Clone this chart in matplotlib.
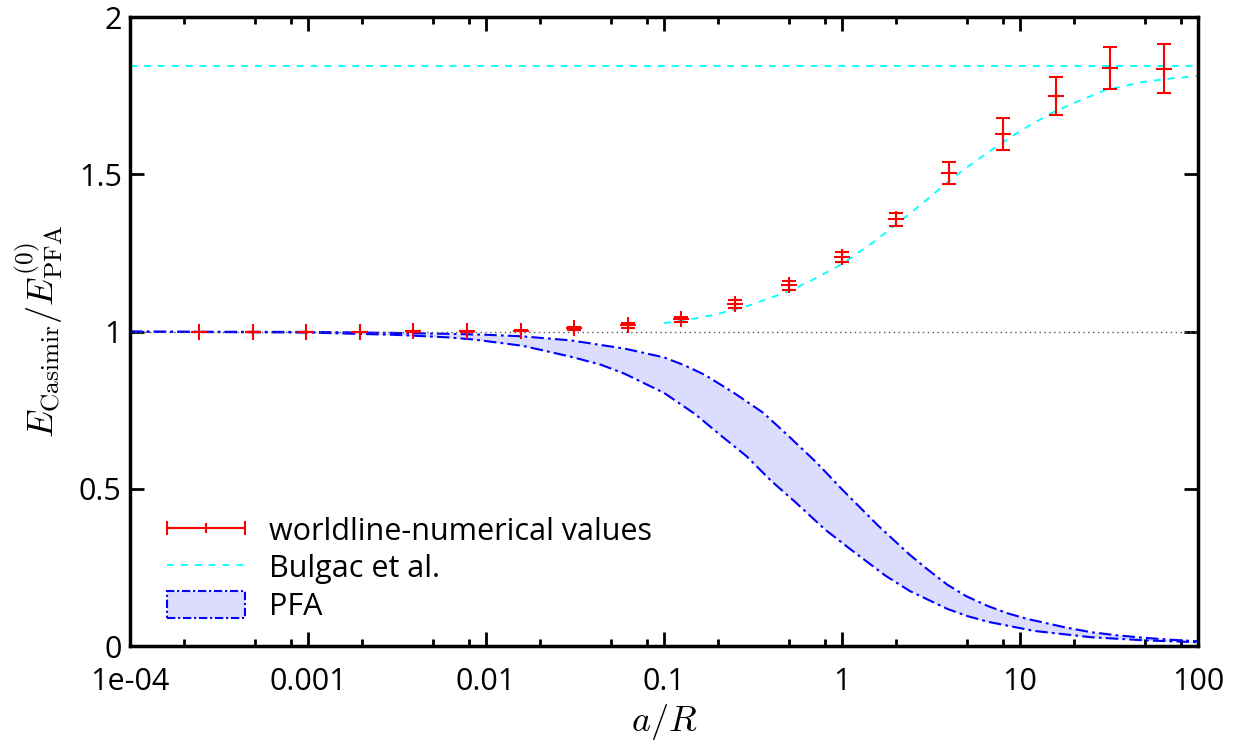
# casimir energy ratio vs a/R, worldline numerics against Bulgac et al. and PFA band
import numpy as np
import matplotlib.pyplot as plt
from matplotlib.lines import Line2D
from matplotlib.patches import Patch
from matplotlib.legend_handler import HandlerBase
from matplotlib.ticker import LogLocator, NullFormatter

plt.rcParams['font.family'] = ['Open Sans', 'DejaVu Sans']
plt.rcParams['mathtext.fontset'] = 'cm'
plt.rcParams['lines.scale_dashes'] = False

# worldline-numerical values
wl_x = [2.0**k for k in range(-12, 7)]
wl_y = [1.000, 1.000, 1.000, 1.000, 1.001, 1.001, 1.003, 1.011, 1.020, 1.039,
        1.087, 1.147, 1.237, 1.357, 1.505, 1.630, 1.750, 1.838, 1.836]
wl_err = [0.0, 0.0, 0.0, 0.0, 0.001, 0.001, 0.002, 0.005, 0.007, 0.008,
          0.013, 0.014, 0.015, 0.021, 0.035, 0.051, 0.060, 0.067, 0.078]

# Bulgac et al.
bulgac_x = [0.1, 0.15, 0.2, 0.3, 0.5, 0.7, 1.0, 1.5, 2.0, 3.0, 4.0, 5.0, 7.0,
            10.0, 15.0, 20.0, 30.0, 50.0, 70.0, 100.0]
bulgac_y = [1.027, 1.042, 1.056, 1.083, 1.128, 1.168, 1.215, 1.285, 1.340, 1.420,
            1.480, 1.522, 1.580, 1.638, 1.695, 1.727, 1.768, 1.795, 1.805, 1.813]
bulgac_limit = 1.845

# PFA band
pfa_up_x = [1e-4, 1e-3, 3e-3, 0.006, 0.01, 0.016, 0.03, 0.06, 0.1, 0.13, 0.17, 0.25,
            0.36, 0.5, 0.72, 1.0, 1.6, 2.4, 3.0, 3.9, 5.0, 6.6, 8.5, 11.0, 13.0,
            18.0, 25.0, 35.0, 50.0, 70.0, 100.0]
pfa_up_y = [1.000, 0.999, 0.996, 0.993, 0.990, 0.985, 0.972, 0.946, 0.918, 0.893, 0.862,
            0.803, 0.742, 0.668, 0.583, 0.498, 0.382, 0.290, 0.245, 0.195, 0.158, 0.127,
            0.104, 0.086, 0.077, 0.059, 0.044, 0.034, 0.026, 0.020, 0.015]
pfa_lo_x = [1e-4, 1e-3, 3e-3, 0.006, 0.0085, 0.016, 0.03, 0.044, 0.06, 0.1, 0.15,
            0.21, 0.29, 0.4, 0.55, 0.8, 1.1, 1.76, 2.4, 3.9, 5.0, 6.6, 12.0, 25.0,
            50.0, 100.0]
pfa_lo_y = [1.000, 0.997, 0.990, 0.982, 0.975, 0.955, 0.920, 0.895, 0.866, 0.805, 0.737,
            0.668, 0.604, 0.525, 0.456, 0.371, 0.310, 0.223, 0.175, 0.118, 0.096, 0.077,
            0.048, 0.028, 0.018, 0.012]

xticks = [1e-4, 1e-3, 1e-2, 1e-1, 1, 10, 100]
xtick_labels = ['1e-04', '0.001', '0.01', '0.1', '1', '10', '100']
yticks = [0, 0.5, 1, 1.5, 2]
ytick_labels = ['0', '0.5', '1', '1.5', '2']


class HorizErrHandler(HandlerBase):
    # gnuplot style key sample: horizontal bar with end caps and a tick in the middle
    def create_artists(self, legend, orig_handle, xdescent, ydescent, width, height, fontsize, trans):
        y = (height - ydescent) / 2.0
        x0, x1 = -xdescent, width - xdescent
        c = height * 0.22
        kw = dict(color='red', lw=1.5, transform=trans)
        arts = [Line2D([x0, x1], [y, y], **kw),
                Line2D([x0, x0], [y - c, y + c], **kw),
                Line2D([x1, x1], [y - c, y + c], **kw),
                Line2D([(x0 + x1) / 2] * 2, [y - c * 0.7, y + c * 0.7], **kw)]
        return arts


fig = plt.figure(figsize=(12.39, 7.49), dpi=100)
ax = fig.add_axes([0.105, 0.1375, 0.862, 0.8395])

# PFA band
up_on_lo = np.interp(np.log(pfa_lo_x), np.log(pfa_up_x), pfa_up_y)
ax.fill_between(pfa_lo_x, pfa_lo_y, up_on_lo, color='#dcdcff', lw=0)
ax.plot(pfa_up_x, pfa_up_y, color='blue', lw=1.5, dashes=(9, 3, 2, 3))
ax.plot(pfa_lo_x, pfa_lo_y, color='blue', lw=1.5, dashes=(9, 3, 2, 3))

ax.axhline(1.0, color='#555555', lw=1, ls=(0, (1, 2.5)))
ax.axhline(bulgac_limit, color='cyan', lw=1.3, dashes=(5, 5))
ax.plot(bulgac_x, bulgac_y, color='cyan', lw=1.3, dashes=(5, 5))

ax.errorbar(wl_x, wl_y, yerr=wl_err, fmt='+', color='red', ms=11, mew=1.5,
            elinewidth=1.5, capsize=5, capthick=1.5, zorder=5)

ax.set_xscale('log')
ax.set_xlim(1e-4, 100)
ax.set_ylim(0, 2)
ax.set_xticks(xticks, xtick_labels)
ax.set_yticks(yticks, ytick_labels)
ax.xaxis.set_minor_locator(LogLocator(base=10, subs=[2, 5, 8], numticks=20))
ax.xaxis.set_minor_formatter(NullFormatter())
ax.tick_params(which='both', direction='in', top=True, right=True, width=2,
               labelsize=22)
ax.tick_params(axis='x', pad=15)
ax.tick_params(axis='y', pad=6)
ax.tick_params(which='major', length=10)
ax.tick_params(which='minor', length=5)
for s in ax.spines.values():
    s.set_linewidth(2.5)

ax.set_xlabel(r'$a/R$', fontsize=26, labelpad=4)
ax.set_ylabel(r'$E_{\rm Casimir}/E_{\rm PFA}^{(0)}$', fontsize=26, labelpad=10)

handles = ['err',
           Line2D([], [], color='cyan', lw=1.3, dashes=(5, 5)),
           Patch(facecolor='#dcdcff', edgecolor='blue', lw=1.5, linestyle=(0, (6, 2, 1.5, 2)))]
labels = ['worldline-numerical values', 'Bulgac et al.', 'PFA']
ax.legend(handles, labels, handler_map={str: HorizErrHandler()}, loc='lower left',
          bbox_to_anchor=(0.006, -0.01), frameon=False, fontsize=22, handlelength=2.55,
          handleheight=1.0, handletextpad=0.8, labelspacing=0.2, borderaxespad=0.6)

fig.savefig('out.png', dpi=100)
